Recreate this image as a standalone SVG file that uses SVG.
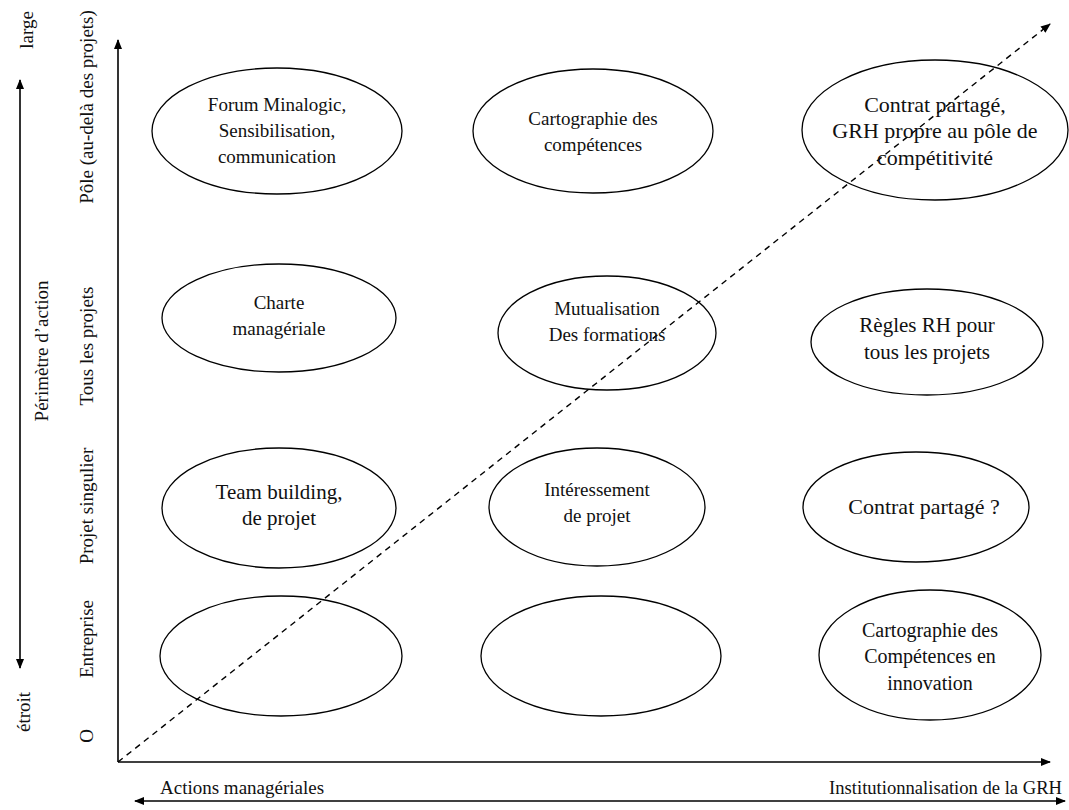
<svg xmlns="http://www.w3.org/2000/svg" width="1069" height="810" viewBox="0 0 1069 810">
<style>
.e{fill:none;stroke:#000;stroke-width:1.3}
.t{font-family:"Liberation Serif","Times New Roman",serif;font-size:19px;fill:#111;text-anchor:middle}
.a{font-family:"Liberation Serif","Times New Roman",serif;font-size:19px;fill:#111}
.m{text-anchor:middle}
.ax{stroke:#000;stroke-width:1.6;fill:none}
</style>
<defs>
<marker id="ah" viewBox="0 0 10 10" refX="9" refY="5" markerWidth="10" markerHeight="10" markerUnits="userSpaceOnUse" orient="auto-start-reverse"><path d="M0,1 L10,5 L0,9 z" fill="#000"/></marker>
</defs>
<rect width="1069" height="810" fill="#fff"/>
<g id="connectors">
<line class="ax" x1="118" y1="762" x2="118" y2="40" marker-end="url(#ah)"/>
<line class="ax" x1="118" y1="762" x2="1050" y2="762" marker-end="url(#ah)"/>
<line class="ax" x1="135" y1="801" x2="1065" y2="801" marker-start="url(#ah)" marker-end="url(#ah)"/>
<line class="ax" x1="20" y1="80" x2="20" y2="668" marker-start="url(#ah)" marker-end="url(#ah)"/>
<line x1="118" y1="762" x2="1050" y2="24" stroke="#000" stroke-width="1.4" stroke-dasharray="6,5" marker-end="url(#ah)"/>
</g>
<g id="axis-labels">
<text class="a m" transform="translate(33,30) rotate(-90)">large</text>
<text class="a m" transform="translate(30,712) rotate(-90)">étroit</text>
<text class="a m" transform="translate(48,351) rotate(-90)">Périmètre d’action</text>
<text class="a m" transform="translate(93,107) rotate(-90)">Pôle (au-delà des projets)</text>
<text class="a m" transform="translate(93,346) rotate(-90)">Tous les projets</text>
<text class="a m" transform="translate(93,506) rotate(-90)">Projet singulier</text>
<text class="a m" transform="translate(93,639) rotate(-90)">Entreprise</text>
<text class="a m" transform="translate(93,736) rotate(-90)">O</text>
<text class="a" x="160" y="794">Actions managériales</text>
<text class="a" x="1062" y="794" text-anchor="end" style="font-size:18.6px">Institutionnalisation de la GRH</text>
</g>
<g id="n1"><ellipse class="e" cx="277" cy="131" rx="125" ry="63"/><text class="t" x="277" y="111">Forum Minalogic,</text><text class="t" x="277" y="137">Sensibilisation,</text><text class="t" x="277" y="163">communication</text></g>
<g id="n2"><ellipse class="e" cx="593" cy="131" rx="120" ry="62"/><text class="t" x="593" y="125">Cartographie des</text><text class="t" x="593" y="151">compétences</text></g>
<g id="n3"><ellipse class="e" cx="935" cy="130" rx="133" ry="70"/><text class="t" style="font-size:22px" x="935" y="112">Contrat partagé,</text><text class="t" style="font-size:22px" x="935" y="138">GRH propre au pôle de</text><text class="t" style="font-size:22px" x="935" y="165">compétitivité</text></g>
<g id="n4"><ellipse class="e" cx="279" cy="318" rx="117" ry="54"/><text class="t" x="279" y="309">Charte</text><text class="t" x="279" y="335">managériale</text></g>
<g id="n5"><ellipse class="e" cx="607" cy="333" rx="109" ry="57"/><text class="t" x="607" y="315">Mutualisation</text><text class="t" x="607" y="341">Des formations</text></g>
<g id="n6"><ellipse class="e" cx="927" cy="342" rx="116" ry="53"/><text class="t" style="font-size:21px" x="927" y="332">Règles RH pour</text><text class="t" style="font-size:21px" x="927" y="359">tous les projets</text></g>
<g id="n7"><ellipse class="e" cx="279" cy="508" rx="117" ry="60"/><text class="t" style="font-size:21px" x="279" y="499">Team building,</text><text class="t" style="font-size:21px" x="279" y="525">de projet</text></g>
<g id="n8"><ellipse class="e" cx="597" cy="507" rx="108" ry="59"/><text class="t" x="597" y="496">Intéressement</text><text class="t" x="597" y="522">de projet</text></g>
<g id="n9"><ellipse class="e" cx="916" cy="507" rx="113" ry="55"/><text class="t" style="font-size:22px" x="924" y="514">Contrat partagé ?</text></g>
<g id="n10"><ellipse class="e" cx="281" cy="656" rx="121" ry="60"/></g>
<g id="n11"><ellipse class="e" cx="601" cy="656" rx="120" ry="60"/></g>
<g id="n12"><ellipse class="e" cx="930" cy="655" rx="111" ry="65"/><text class="t" style="font-size:20px" x="930" y="637">Cartographie des</text><text class="t" style="font-size:20px" x="930" y="663">Compétences en</text><text class="t" style="font-size:20px" x="930" y="690">innovation</text></g>
</svg>
